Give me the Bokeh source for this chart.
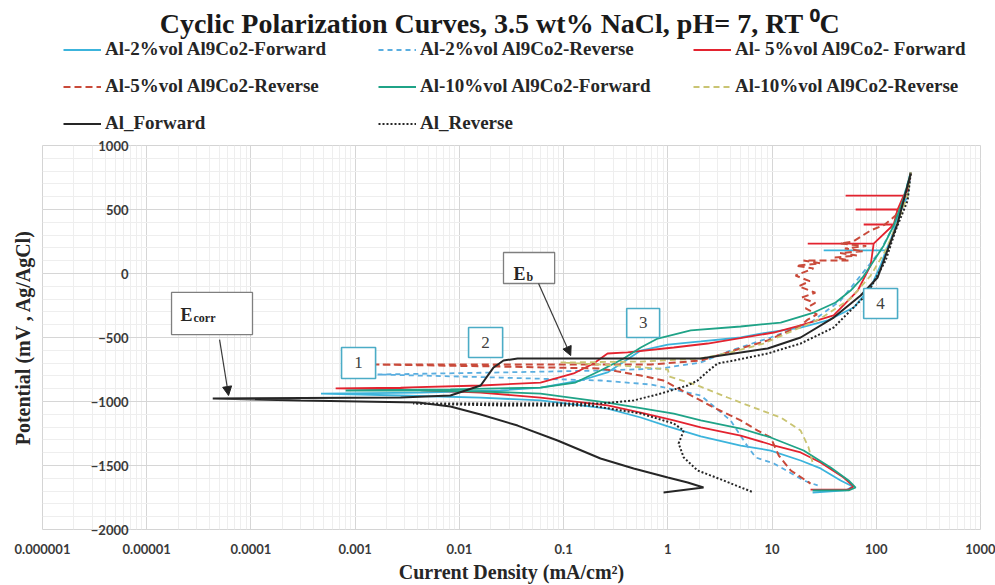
from bokeh.plotting import figure
from bokeh.layouts import column
from bokeh.models import (Legend, LegendItem, Label, FixedTicker,
                          CustomJSTickFormatter, Arrow, NormalHead)
from bokeh.embed import file_html
from bokeh.resources import INLINE
from bokeh.core.properties import value

# ---------------- axis ticks ----------------
x_ticks = [1e-6, 1e-5, 1e-4, 1e-3, 1e-2, 1e-1, 1, 10, 100, 1000]
x_tick_labels = ["0.000001", "0.00001", "0.0001", "0.001", "0.01", "0.1", "1", "10", "100", "1000"]
y_ticks = [-2000, -1500, -1000, -500, 0, 500, 1000]

# ---------------- series (current density mA/cm2, potential mV) ----------------
al2_fwd_i = [24.5, 50.8, 59.4, 45.5, 29.2, 18.8, 9.7, 5.0, 2.07, 1.0, 0.55, 0.264, 0.060, 0.016, 0.00273, 0.00047,
             0.00425, 0.0248, 0.060, 0.146, 0.264, 0.394, 0.55, 1.0, 2.07, 5.0, 7.8, 18.8, 34.2, 60.7, 88.3, 110,
             124, 31.3, 124, 137, 164, 200, 214]
al2_fwd_e = [-1711, -1695, -1664, -1617, -1523, -1461, -1383, -1344, -1273, -1195, -1125, -1055, -992, -969, -953, -938,
             -930, -914, -891, -836, -773, -680, -602, -555, -531, -500, -469, -422, -367, -266, -109, 63,
             180, 180, 180, 258, 453, 609, 789]

al2_rev_i = [214, 179, 147, 110, 70.8, 45.5, 23.4, 9.7, 4.0, 2.07, 0.853, 0.226, 0.0248, 0.00164,
             0.0248, 0.226, 0.684, 2.07, 4.0, 5.58, 6.96, 10.4, 20.1, 27.4]
al2_rev_e = [789, 570, 375, 180, -16, -211, -383, -500, -602, -695, -742, -758, -773, -789,
             -813, -836, -867, -953, -1148, -1328, -1437, -1484, -1617, -1656]

al5_fwd_i = [23.4, 54.3, 60.7, 48.6, 29.2, 18.8, 9.7, 5.0, 2.07, 1.14, 0.55, 0.264, 0.060, 0.016, 0.00273, 0.00065,
             0.00273, 0.016, 0.060, 0.125, 0.194, 0.264, 0.411, 1.14, 2.41, 10.4, 18.8, 39, 66.4, 88.3,
             94.4, 22, 94.4, 147, 75.7, 147, 160, 63.4, 160, 183, 50.8, 183, 200, 214]
al5_fwd_e = [-1688, -1688, -1664, -1594, -1477, -1398, -1336, -1266, -1203, -1148, -1086, -1031, -969, -930, -906, -898,
             -891, -875, -852, -781, -703, -625, -617, -578, -547, -461, -406, -328, -133, 63,
             234, 234, 234, 383, 383, 383, 500, 500, 500, 609, 609, 609, 648, 789]

al5_rev_i = [214, 200, 175, 153, 120, 88, 60, 45, 80, 50, 75, 45, 65, 40, 55, 20, 29, 17, 25, 16.8, 23, 18, 26,
             19, 26, 21, 27, 22, 18.8, 9.08, 4.28, 2.07, 0.684, 0.0248, 0.00157,
             0.0248, 0.226, 0.55, 0.91, 1.55, 2.75, 5.0, 7.28, 9.7, 11.6, 15.1, 23.4]
al5_rev_e = [789, 648, 540, 453, 380, 336, 250, 234, 215, 195, 175, 160, 140, 125, 102, 102, 80, 60, 40, -16, -60, -100,
             -150, -190, -230, -273, -320, -360, -406, -523, -602, -680, -711, -711, -711,
             -727, -742, -797, -836, -938, -1047, -1148, -1227, -1281, -1422, -1539, -1641]

al10_fwd_i = [24.5, 54.3, 63.4, 54.3, 36.5, 20.1, 9.7, 5.0, 2.07, 1.14, 0.264, 0.060, 0.016, 0.00425, 0.00081,
              0.0082, 0.060, 0.130, 0.226, 0.377, 0.55, 0.80, 1.66, 5.0, 12.1, 25.1, 40.7, 56.8, 74, 92.3, 118,
              147, 183, 214]
al10_fwd_e = [-1695, -1695, -1672, -1617, -1516, -1383, -1281, -1211, -1148, -1094, -1008, -938, -922, -914, -914,
              -906, -891, -852, -758, -664, -578, -508, -445, -414, -383, -305, -227, -133, -31, 86, 219,
              375, 586, 789]

al10_rev_i = [214, 200, 160, 123, 88.3, 56.8, 29.2, 16.1, 8.3, 4.0, 2.07, 0.55, 0.0935,
              0.352, 1.0, 1.04, 1.93, 3.75, 6.65, 12.1, 18.8, 22.4, 24.5]
al10_rev_e = [789, 609, 398, 180, -16, -195, -352, -445, -547, -617, -664, -688, -695,
              -719, -750, -805, -875, -969, -1047, -1125, -1227, -1359, -1477]

al_fwd_i = [0.91, 2.2, 1.55, 1.0, 0.47, 0.226, 0.0875, 0.0362, 0.016, 0.0082, 0.004, 0.0003, 4.3e-5,
            0.00273, 0.0082, 0.016, 0.0213, 0.0265, 0.0362, 2.07, 9.08, 18.8, 39, 70.8, 103, 128, 160, 183, 214]
al_fwd_e = [-1711, -1672, -1633, -1594, -1523, -1445, -1305, -1188, -1102, -1039, -1008, -992, -977,
            -969, -953, -875, -734, -680, -664, -664, -586, -500, -344, -172, -31, 180, 390, 570, 781]

al_rev_i = [214, 200, 153, 123, 82.6, 39, 18.8, 9.08, 4.28, 3.0, 2.47, 1.93, 1.55, 0.853, 0.47, 0.226, 0.0248, 0.0036,
            0.0248, 0.18, 0.55, 1.14, 1.42, 1.27, 1.42, 1.93, 3.43, 6.65]
al_rev_e = [781, 570, 336, 102, -156, -422, -547, -625, -680, -703, -758, -836, -875, -938, -992, -1016, -1016, -1016,
            -1031, -1031, -1094, -1172, -1227, -1328, -1437, -1539, -1617, -1711]

series_labels = ["Al-2%vol Al9Co2-Forward", "Al-2%vol Al9Co2-Reverse", "Al- 5%vol Al9Co2- Forward",
                 "Al-5%vol Al9Co2-Reverse", "Al-10%vol Al9Co2-Forward", "Al-10%vol Al9Co2-Reverse",
                 "Al_Forward", "Al_Reverse"]

title_text = "Cyclic Polarization Curves,  3.5 wt% NaCl, pH= 7, RT \u2070C"

# ---------------- annotations ----------------
num_box_text = ["1", "2", "3", "4"]
num_box_left = [7.4e-4, 0.01225, 0.403, 75.7]
num_box_right = [1.57e-3, 0.026, 0.834, 160]
num_box_bottom = [-820, -656, -500, -352]
num_box_top = [-578, -422, -273, -117]

e_box_left = [1.73e-5, 0.0265]
e_box_right = [1.035e-4, 0.082]
e_box_bottom = [-477, -78]
e_box_top = [-148, 164]
e_text_x = [2.11e-5, 0.0331]
e_text_y = [-328, 0]
e_sub_text = ["corr", "b"]
e_sub_dx = [13, 13]
arrow_start = [(5.0e-5, -516), (0.0575, -78)]
arrow_end = [(6.1e-5, -953), (0.117, -641)]

# ---------------- styles ----------------
c2f, c2r = "#3cb4dc", "#5aaee0"
c5f, c5r = "#e3232f", "#c94a3a"
c10f, c10r = "#1fa387", "#c9c472"
cal = "#262626"
styles = [dict(line_color=c2f, line_width=1.8),
          dict(line_color=c2r, line_width=1.8, line_dash="5 4"),
          dict(line_color=c5f, line_width=1.8),
          dict(line_color=c5r, line_width=2, line_dash="7 4"),
          dict(line_color=c10f, line_width=1.8),
          dict(line_color=c10r, line_width=1.8, line_dash="6 4"),
          dict(line_color=cal, line_width=2),
          dict(line_color=cal, line_width=2, line_dash="2 2")]
series = [(al2_fwd_i, al2_fwd_e), (al2_rev_i, al2_rev_e), (al5_fwd_i, al5_fwd_e), (al5_rev_i, al5_rev_e),
          (al10_fwd_i, al10_fwd_e), (al10_rev_i, al10_rev_e), (al_fwd_i, al_fwd_e), (al_rev_i, al_rev_e)]

# ---------------- header (title + legend); its frame is aligned with the main plot frame ----------------
# the header's ranges lie outside the data, so its copies of the series only feed the legend keys
head = figure(width=995, height=137, x_range=(5000, 6000), y_range=(5000, 6000), output_backend="svg",
              toolbar_location=None, title=None, x_axis_location=None, y_axis_location=None,
              min_border=0, border_fill_color="white", background_fill_color="white")
head.outline_line_color = None
head.grid.visible = False
key_renderers = [head.line(xs, ys, **st) for (xs, ys), st in zip(series, styles)]
legend = Legend(items=[LegendItem(label=l, renderers=[r]) for l, r in zip(series_labels, key_renderers)],
                orientation="horizontal", ncols=3, location=(21, 3),
                glyph_width=38, glyph_height=21, label_height=21, label_width=258,
                label_standoff=4, spacing=15, padding=0, margin=0,
                border_line_color=None, background_fill_alpha=0,
                label_text_font="Liberation Serif", label_text_font_style="bold",
                label_text_font_size="19px", label_text_color="#262626")
head.add_layout(legend, "center")
head.add_layout(Label(x=461, y=114, x_units="screen", y_units="screen", text=title_text,
                      text_align="center", text_baseline="middle",
                      text_font="Liberation Serif", text_font_style="bold", text_font_size="28px",
                      text_color="#1a1a1a"))

# ---------------- main plot ----------------
p = figure(width=995, height=448, x_axis_type="log", x_range=(1e-6, 1000), y_range=(-2000, 1000),
           output_backend="svg", toolbar_location=None, title=None,
           min_border_left=42, min_border_right=15, min_border_top=8, min_border_bottom=56,
           background_fill_color="white", border_fill_color="white")
p.outline_line_color = "#d4d4d4"

x_minor = [m * 10.0 ** k for k in range(-6, 3) for m in range(2, 10)]
y_minor = list(range(-2000, 1001, 100))

p.xgrid.ticker = FixedTicker(ticks=x_ticks, minor_ticks=x_minor)
p.ygrid.ticker = FixedTicker(ticks=y_ticks, minor_ticks=y_minor)
for g in (p.xgrid, p.ygrid):
    g.grid_line_color = "#d6d6d6"
    g.grid_line_width = 1
    g.minor_grid_line_color = "#eeeeee"
    g.minor_grid_line_width = 1

xa = p.xaxis[0]
xa.ticker = FixedTicker(ticks=x_ticks)
xa.formatter = CustomJSTickFormatter(args=dict(tick_vals=x_ticks, tick_labels=x_tick_labels), code="""
let best = 0, d = Infinity;
for (let i = 0; i < tick_vals.length; i++) {
  const dd = Math.abs(Math.log10(tick) - Math.log10(tick_vals[i]));
  if (dd < d) { d = dd; best = i; }
}
return tick_labels[best];
""")
xa.major_tick_out = 0
xa.major_tick_in = 0
xa.minor_tick_out = 0
xa.minor_tick_in = 0
xa.axis_line_color = None
xa.major_label_standoff = 14
xa.major_label_text_font = "Lato"
xa.major_label_text_font_style = "bold"
xa.major_label_text_font_size = "13px"
xa.major_label_text_color = "#3a3a3a"
xa.axis_label = "Current Density (mA/cm²)"
xa.axis_label_standoff = 4
xa.axis_label_text_font = "Liberation Serif"
xa.axis_label_text_font_style = "bold"
xa.axis_label_text_font_size = "20px"
xa.axis_label_text_color = "#262626"

# y tick labels sit inside the plot area (left of the 0.00001 gridline), as in the reference
ya = p.yaxis[0]
ya.ticker = FixedTicker(ticks=y_ticks)
ya.major_tick_out = 0
ya.major_tick_in = 0
ya.minor_tick_out = 0
ya.minor_tick_in = 0
ya.axis_line_color = None
ya.major_label_standoff = -86
ya.major_label_text_font = "Lato"
ya.major_label_text_font_style = "bold"
ya.major_label_text_font_size = "13px"
ya.major_label_text_color = "#3a3a3a"
ya.axis_label = "Potential (mV , Ag/AgCl)"
ya.axis_label_standoff = 54
ya.axis_label_text_font = "Liberation Serif"
ya.axis_label_text_font_style = "bold"
ya.axis_label_text_font_size = "20px"
ya.axis_label_text_color = "#262626"

# ---------------- curves ----------------
for (xs, ys), st in zip(series, styles):
    p.line(xs, ys, **st)

# ---------------- annotation boxes ----------------
p.quad(left=e_box_left, right=e_box_right, bottom=e_box_bottom, top=e_box_top,
       fill_color="white", line_color="#7f7f7f", line_width=1.3)
p.text(x=e_text_x, y=e_text_y, text=["E", "E"], text_font=value("Liberation Serif"),
       text_font_style="bold", text_font_size="18px", text_color="#262626", text_baseline="alphabetic")
p.text(x=e_text_x, y=e_text_y, text=e_sub_text, x_offset=e_sub_dx, y_offset=3,
       text_font=value("Liberation Serif"), text_font_style="bold", text_font_size="12px",
       text_color="#262626", text_baseline="alphabetic")

p.quad(left=num_box_left, right=num_box_right, bottom=num_box_bottom, top=num_box_top,
       fill_color="white", line_color="#4bacc6", line_width=1.6)
num_cx = [(l * r) ** 0.5 for l, r in zip(num_box_left, num_box_right)]
num_cy = [(b + t) / 2 for b, t in zip(num_box_bottom, num_box_top)]
p.text(x=num_cx, y=num_cy, text=num_box_text, text_font=value("Liberation Serif"),
       text_font_size="17px", text_color="#404040", text_align="center", text_baseline="middle")

for (xs, ys), (xe, ye) in zip(arrow_start, arrow_end):
    p.add_layout(Arrow(end=NormalHead(size=9, fill_color="#222222", line_color="#222222"),
                       x_start=xs, y_start=ys, x_end=xe, y_end=ye,
                       line_color="#3a3a3a", line_width=1.2))

layout = column(head, p, spacing=0)
open("out.html", "w").write(file_html(layout, INLINE))
